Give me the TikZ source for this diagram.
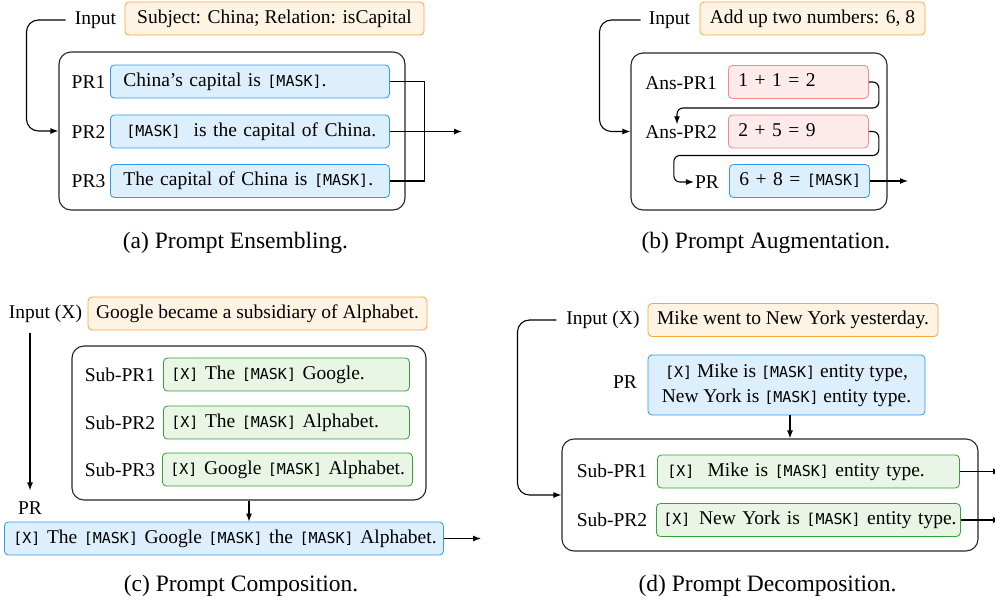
\documentclass[tikz,border=0pt]{standalone}
\usepackage{fontspec}
\setmainfont{Liberation Serif}
\newfontfamily\mfont{DejaVu Sans Mono}[Scale=0.77]
\usetikzlibrary{arrows.meta}
\definecolor{ofill}{HTML}{FFF4E3}
\definecolor{odraw}{HTML}{F7A637}
\definecolor{bfill}{HTML}{DDEFFC}
\definecolor{bdraw}{HTML}{2D9CF0}
\definecolor{rfill}{HTML}{FDEBEB}
\definecolor{rdraw}{HTML}{F28C8C}
\definecolor{gfill}{HTML}{E9F5E5}
\definecolor{gdraw}{HTML}{34A236}
\newcommand\mk{{\mfont[MASK]}}
\newcommand\mX{{\mfont[X]}}
\newcommand\padtxt[2]{\mbox{\hspace{#1}#2}}
\begin{document}
\begin{tikzpicture}[x=1pt,y=-1pt,
  font=\fontsize{19.5}{25}\selectfont,
  tb/.style={draw, line width=0.8pt, rounded corners=4pt, minimum height=33pt,
    inner xsep=0pt, inner ysep=0pt, text height=13.5pt, text depth=4pt,
    anchor=west, align=left},
  ob/.style={tb, fill=ofill, draw=odraw, anchor=center, align=center},
  bb/.style={tb, fill=bfill, draw=bdraw},
  rb/.style={tb, fill=rfill, draw=rdraw},
  gb/.style={tb, fill=gfill, draw=gdraw},
  cont/.style={draw=black!85, line width=1.1pt, rounded corners=12pt, inner sep=0pt},
  lbl/.style={inner sep=1pt},
  arr/.style={-{Latex[length=8pt,width=6pt]}, line width=1.1pt},
  ln/.style={line width=1.1pt},
  captxt/.style={font=\fontsize{23.5}{28}\selectfont, inner sep=0pt}]
\useasboundingbox (0,0) rectangle (995,603);

%% (a) Prompt Ensembling
\node[lbl] (inAl) at (95.5,20) {Input};
\node[ob, minimum width=299pt] (inA) at (274.5,18.5) {Subject: China; Relation: isCapital};
\node[cont, minimum width=346pt, minimum height=158pt] (contA) at (232,131) {};
\node[lbl] (l1a) at (88.5,82) {PR1};
\node[lbl] (l2a) at (88.5,132) {PR2};
\node[lbl] (l3a) at (88.5,181) {PR3};
\node[bb, text width=279pt] (pr1a) at (110,81.5) {\padtxt{13pt}{China’s capital is \mk.}};
\node[bb, text width=279pt] (pr2a) at (110,131.5) {\padtxt{16pt}{\mk\ \ is the capital of China.}};
\node[bb, text width=279pt] (pr3a) at (110,181) {\padtxt{13pt}{The capital of China is \mk.}};
\coordinate (outA) at (462,131.5);
\draw[arr, rounded corners=12pt] ([xshift=-8pt]inAl.west) -| ([xshift=-32pt]contA.west) -- (contA.west);
\draw[ln] (pr1a.east) -- ++(35,0) |- (pr3a.east);
\draw[arr] (pr2a.east) -- (outA);
\node[captxt] (capA) at (235.5,243) {(a) Prompt Ensembling.};

%% (b) Prompt Augmentation
\node[lbl] (inBl) at (669.5,20) {Input};
\node[ob, minimum width=225pt] (inB) at (812.5,18.5) {Add up two numbers: 6, 8};
\node[cont, minimum width=256pt, minimum height=157pt] (contB) at (759,131.5) {};
\node[lbl] (lA1) at (681,83) {Ans-PR1};
\node[lbl] (lA2) at (681,132) {Ans-PR2};
\node[lbl] (lPRb) at (707,182) {PR};
\node[rb, text width=140pt] (a1b) at (728,82) {\padtxt{10pt}{1 + 1 = 2}};
\node[rb, text width=140pt] (a2b) at (728,131.5) {\padtxt{10pt}{2 + 5 = 9}};
\node[bb, text width=140pt] (prb) at (729,181) {\padtxt{10pt}{6 + 8 = \mk}};
\coordinate (outB) at (908,181);
\draw[arr, rounded corners=12pt] ([xshift=-7pt]inBl.west) -| ([xshift=-31pt]contB.west) -- (contB.west);
\draw[arr, rounded corners=6pt] (a1b.east) -- ++(10,0) -- ++(0,26) -| ([xshift=-4pt]lA2.north);
\draw[arr, rounded corners=6pt] (a2b.east) -- ++(10,0) -- ++(0,24) -| ([xshift=-20pt]lPRb.west) -- (lPRb.west);
\draw[arr] (prb.east) -- (outB);
\node[captxt] (capB) at (766,243) {(b) Prompt Augmentation.};

%% (c) Prompt Composition
\node[lbl] (inCl) at (45.5,314) {Input (X)};
\node[ob, minimum width=339pt] (inC) at (257.5,313.5) {Google became a subsidiary of Alphabet.};
\node[lbl] (lPRc) at (30,508) {PR};
\node[cont, minimum width=354pt, minimum height=154pt] (contC) at (249,423) {};
\node[lbl] (s1l) at (120,375) {Sub-PR1};
\node[lbl] (s2l) at (120,423) {Sub-PR2};
\node[lbl] (s3l) at (120,470) {Sub-PR3};
\node[gb, text width=246pt] (s1c) at (163,374.5) {\padtxt{8pt}{\mX{} The \mk{} Google.}};
\node[gb, text width=246pt] (s2c) at (163,422.5) {\padtxt{8pt}{\mX{} The \mk{} Alphabet.}};
\node[gb, text width=250pt] (s3c) at (162,469.5) {\padtxt{8pt}{\mX{} Google \mk{} Alphabet.}};
\node[bb, text width=439pt] (prc) at (4,538.5) {\padtxt{9pt}{\mX{} The \mk{} Google \mk{} the \mk{} Alphabet.}};
\coordinate (outC) at (481,538.5);
\draw[arr] ([yshift=-9pt]lPRc.north |- inCl.south) -- ([yshift=10pt]lPRc.north);
\draw[arr] (contC.south) -- (contC.south |- prc.north);
\draw[arr] (prc.east) -- (outC);
\node[captxt] (capC) at (241,586) {(c) Prompt Composition.};

%% (d) Prompt Decomposition
\node[lbl] (inDl) at (603,320) {Input (X)};
\node[ob, minimum width=290pt] (inD) at (793,320) {Mike went to New York yesterday.};
\node[lbl] (lPRd) at (625,382) {PR};
\node[draw=bdraw, fill=bfill, line width=0.8pt, rounded corners=4pt, minimum width=277pt,
  minimum height=60pt, align=center, inner sep=0pt] (prd) at (786.5,385)
  {\mX{} Mike is \mk{} entity type,\\New York is \mk{} entity type.};
\node[cont, minimum width=416pt, minimum height=112pt] (contD) at (770,495) {};
\node[lbl] (d1l) at (612,471) {Sub-PR1};
\node[lbl] (d2l) at (612,520) {Sub-PR2};
\node[gb, text width=302pt] (s1d) at (657,471.5) {\padtxt{10pt}{\mX\ \ Mike is \mk{} entity type.}};
\node[gb, text width=304pt] (s2d) at (656,520) {\padtxt{7pt}{\mX\ \hspace{2pt}New York is \mk{} entity type.}};
\coordinate (outD1) at (1001,471.5);
\coordinate (outD2) at (1001,520);
\draw[arr, rounded corners=12pt] ([xshift=-9pt]inDl.west) -| ([xshift=-44pt]contD.west) -- (contD.west);
\draw[arr] (prd.south -| 790,0) -- (contD.north -| 790,0);
\draw[arr] (s1d.east) -- (outD1);
\draw[arr] (s2d.east) -- (outD2);
\node[captxt] (capD) at (767.5,586) {(d) Prompt Decomposition.};
\end{tikzpicture}
\end{document}
